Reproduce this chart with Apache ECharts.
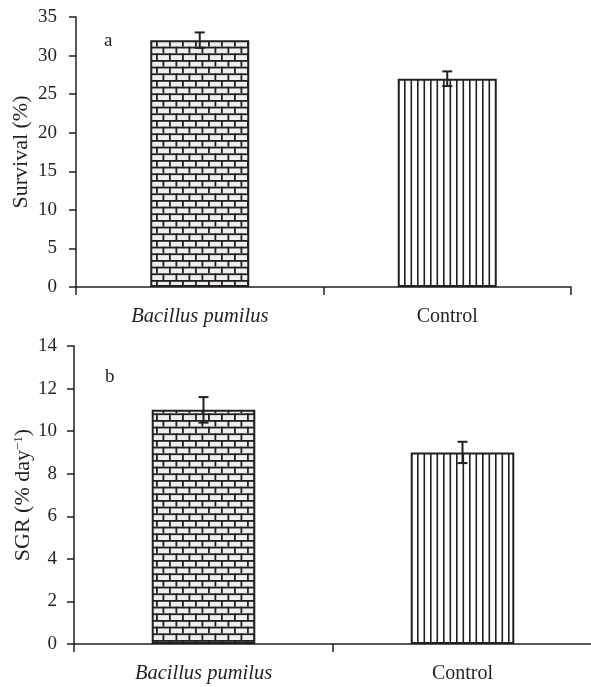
<!DOCTYPE html>
<html>
<head>
<meta charset="utf-8">
<script src="https://cdn.jsdelivr.net/npm/echarts@6/dist/echarts.min.js"></script>
<style>
html,body{margin:0;padding:0;background:#fff;}
#chart{width:591px;height:687px;}
</style>
</head>
<body>
<div id="chart"></div>
<script>
// ---- data ----
const categories = ['Bacillus pumilus', 'Control'];
const survivalMean = [32, 27];
const survivalErr = [1.0, 0.95];
const sgrMean = [11, 9];
const sgrErr = [0.6, 0.5];
const survivalTicks = {min: 0, max: 35, interval: 5};
const sgrTicks = {min: 0, max: 14, interval: 2};

const INK = '#231f20';
const FONT = '"Liberation Serif", "DejaVu Serif", serif';

function brickPattern() {
  const c = document.createElement('canvas');
  c.width = 26; c.height = 40;
  const g = c.getContext('2d');
  g.fillStyle = '#eeeeee';
  g.fillRect(0, 0, 26, 40);
  g.fillStyle = INK;
  const rh = 40 / 6;
  for (let r = 0; r < 6; r++) {
    const y = r * rh;
    g.fillRect(0, y, 26, 1.8);
    const off = (r % 2) ? 6.5 : 0;
    for (let x = off; x < 26; x += 13) {
      g.fillRect(x, y, 1.8, rh);
    }
  }
  return c;
}
function stripePattern() {
  const c = document.createElement('canvas');
  c.width = 13; c.height = 10;
  const g = c.getContext('2d');
  g.fillStyle = '#ffffff';
  g.fillRect(0, 0, 13, 10);
  g.fillStyle = INK;
  g.fillRect(1, 0, 1.6, 10);
  g.fillRect(7.5, 0, 1.6, 10);
  return c;
}
const brick = {image: brickPattern(), repeat: 'repeat'};
const stripe = {image: stripePattern(), repeat: 'repeat'};
const fills = [brick, stripe];

function barData(vals) {
  return vals.map((v, i) => ({value: v, itemStyle: {color: fills[i]}}));
}
function errData(means, errs) {
  return means.map((m, i) => [i, m - errs[i], m + errs[i]]);
}
function renderErr(params, api) {
  const lo = api.coord([api.value(0), api.value(1)]);
  const hi = api.coord([api.value(0), api.value(2)]);
  const x = lo[0], w = 5;
  const style = {stroke: INK, lineWidth: 2};
  return {
    type: 'group',
    children: [
      {type: 'line', shape: {x1: x, y1: lo[1], x2: x, y2: hi[1]}, style},
      {type: 'line', shape: {x1: x - w, y1: lo[1], x2: x + w, y2: lo[1]}, style},
      {type: 'line', shape: {x1: x - w, y1: hi[1], x2: x + w, y2: hi[1]}, style}
    ]
  };
}

const axisLine = {show: true, lineStyle: {color: INK, width: 1.5}};
function xAxis(gridIndex) {
  return {
    type: 'category', gridIndex, data: categories, boundaryGap: true,
    axisLine, axisTick: {show: true, length: 8, lineStyle: {color: INK, width: 1.5}},
    axisLabel: {color: INK, fontFamily: FONT, fontSize: 20, margin: 20,
      formatter: (v, i) => i === 0 ? '{it|' + v + '}' : v,
      rich: {it: {fontStyle: 'italic', fontFamily: FONT, fontSize: 20.5, color: INK}}},
    splitLine: {show: false}
  };
}
function yAxis(gridIndex, t, name, gap, margin) {
  return {
    type: 'value', gridIndex, min: t.min, max: t.max, interval: t.interval,
    name, nameLocation: 'middle', nameGap: gap, nameRotate: 90, nameMoveOverlap: false,
    nameTextStyle: {color: INK, fontFamily: FONT, fontSize: 22,
      rich: {sup: {fontFamily: FONT, fontSize: 13, color: INK, verticalAlign: 'top', padding: [0, 0, 9, 0]}}},
    axisLine, axisTick: {show: true, length: 7, inside: false, lineStyle: {color: INK, width: 1.5}},
    axisLabel: {color: INK, fontFamily: FONT, fontSize: 19, margin},
    splitLine: {show: false}
  };
}

const chart = echarts.init(document.getElementById('chart'), null, {renderer: 'canvas'});
chart.setOption({
  animation: false,
  backgroundColor: '#ffffff',
  grid: [
    {left: 76, top: 17, width: 495, height: 270, containLabel: false, outerBoundsMode: 'none'},
    {left: 74, top: 346, width: 518, height: 298, containLabel: false, outerBoundsMode: 'none'}
  ],
  xAxis: [xAxis(0), xAxis(1)],
  yAxis: [
    yAxis(0, survivalTicks, 'Survival (%)', 44, 19),
    yAxis(1, sgrTicks, 'SGR (% day{sup|\u22121})', 40, 17)
  ],
  graphic: [
    {type: 'text', left: 104, top: 32, style: {text: 'a', fill: INK, font: '19px ' + FONT}},
    {type: 'text', left: 105, top: 368, style: {text: 'b', fill: INK, font: '19px ' + FONT}}
  ],
  series: [
    {type: 'bar', xAxisIndex: 0, yAxisIndex: 0, barWidth: '40%', data: barData(survivalMean),
      itemStyle: {borderColor: INK, borderWidth: 2}},
    {type: 'custom', xAxisIndex: 0, yAxisIndex: 0, z: 5, renderItem: renderErr, data: errData(survivalMean, survivalErr)},
    {type: 'bar', xAxisIndex: 1, yAxisIndex: 1, barWidth: '40%', data: barData(sgrMean),
      itemStyle: {borderColor: INK, borderWidth: 2}},
    {type: 'custom', xAxisIndex: 1, yAxisIndex: 1, z: 5, renderItem: renderErr, data: errData(sgrMean, sgrErr)}
  ]
});
</script>
</body>
</html>
